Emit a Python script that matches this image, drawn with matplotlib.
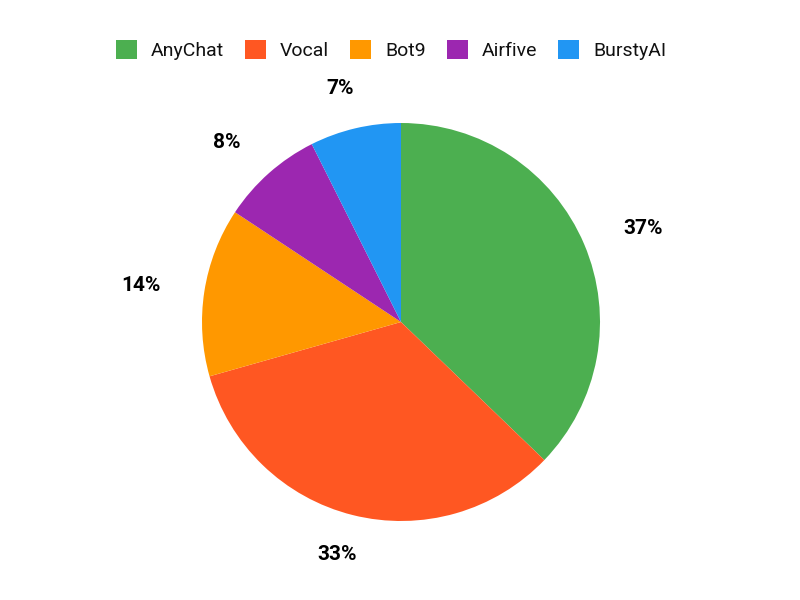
import numpy as np
import matplotlib
matplotlib.use("Agg")
import matplotlib.pyplot as plt
from matplotlib.patches import Patch

plt.rcParams['font.family'] = ['Roboto', 'DejaVu Sans']

categories = ["AnyChat", "Vocal", "Bot9", "Airfive", "BurstyAI"]
values = [37.2, 33.4, 13.7, 8.3, 7.4]
colors = ["#4CAF50", "#FF5722", "#FF9800", "#9C27B0", "#2196F3"]

W, H = 800, 600
R = 199.0
cx, cy = 401.0, 322.0  # pixel coords from top-left

fig = plt.figure(figsize=(8, 6), dpi=100)
ax = fig.add_axes([0, 0, 1, 1])
wedges, _ = ax.pie(values, colors=colors, startangle=90, counterclock=False,
                   radius=1.0, wedgeprops=dict(linewidth=0))
ax.set_aspect('auto')
ax.set_xlim(-cx / R, (W - cx) / R)
ax.set_ylim(-(H - cy) / R, cy / R)
ax.axis('off')

total = sum(values)
cum = 0.0
for v in values:
    mid = (cum + v / 2) / total * 2 * np.pi
    cum += v
    s, c = np.sin(mid), np.cos(mid)
    ax.text(1.322 * s, 1.206 * c, f"{round(v / total * 100)}%", ha='center', va='center',
            fontsize=15, fontweight='bold', color='#000000')

handles = [Patch(facecolor=col, edgecolor='none') for col in colors]
fig.legend(handles, categories, loc='center', bbox_to_anchor=(391 / W, 1 - 50 / H),
           ncol=5, frameon=False, fontsize=14, handlelength=1.08, handleheight=1.08,
           handletextpad=0.72, columnspacing=1.08, labelcolor='#111111')

fig.savefig("out.png", dpi=100, facecolor='white')
